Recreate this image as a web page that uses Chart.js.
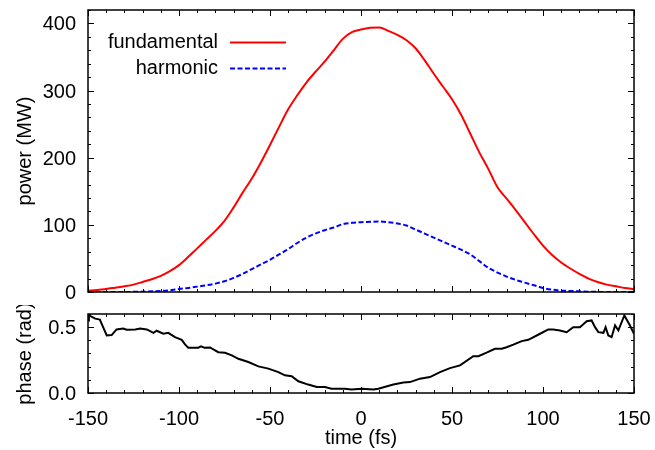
<!DOCTYPE html>
<html>
<head>
<meta charset="utf-8">
<script src="https://cdn.jsdelivr.net/npm/chart.js@4.4.1/dist/chart.umd.min.js"></script>
<style>
  html, body { margin: 0; padding: 0; background: #fff; }
  #wrap { position: relative; width: 655px; height: 450px; }
  canvas { position: absolute; left: 0; }
  #top { top: 0; }
  #bot { top: 305px; }
</style>
</head>
<body>
<div id="wrap">
  <canvas id="top" width="655" height="305"></canvas>
  <canvas id="bot" width="655" height="145"></canvas>
</div>
<script>
// ---- data ----
const timeFs = [-150,-145,-140,-135,-130,-125,-120,-115,-110,-105,-100,-95,-90,-85,-80,-75,-70,-65,-60,-55,-50,-45,-40,-35,-30,-25,-20,-15,-10,-5,0,5,10,15,20,25,30,35,40,45,50,55,60,65,70,75,80,85,90,95,100,105,110,115,120,125,130,135,140,145,150];
const fundamental = [2,3,4.5,6.5,8.5,11,15,19,24,31,40,52,65,78,91,106,126,148,169,193,219,246,272,293,312,328,343,360,377,387,391,393.5,394,389,383,375,363,345,325,306,287,264,236,208,183,156,139,122,104,86,69,55,44,35,27,20,15,11,8.5,6,4.5];
const harmonic = [0,0,0,0,0,0.3,0.5,1,1.5,2.5,4.5,6,8,10,12.5,16,21,27,34,41,48,56,64,73,81,87,92,96,101,103,104,104.5,105,104,102,99,93,87,81,75,69,63,56,46,36,29,23,18,14,10,6,3.5,2,1.5,1,0.5,0.2,0,0,0,0];
const phaseTime = [-150,-149.5,-146,-143.5,-139.7,-137,-134.3,-130.6,-128.8,-124,-121.4,-117.7,-114,-112.3,-108.6,-105.9,-102.2,-98.5,-96.7,-94.9,-89.4,-88,-86,-83,-78.4,-74.7,-71,-67.4,-61.9,-56.4,-50.9,-45.4,-41.8,-38.1,-34.4,-29,-24.3,-19.8,-16.2,-8.9,-5.2,0.3,6.8,9.5,17.8,23.3,26.9,32.4,37.9,43.4,48.9,54.4,61.7,64.5,69,73.6,77.3,80,83.7,88.3,91.9,98.4,102.9,105.6,109.3,113,116.6,120.3,124,126.7,128.6,130.4,133.2,134.4,135.9,137.7,139.6,141.4,144.7,147.8,150];
const phaseValue = [0.55,0.59,0.565,0.558,0.437,0.44,0.483,0.49,0.48,0.483,0.49,0.483,0.457,0.473,0.45,0.457,0.424,0.404,0.369,0.344,0.344,0.354,0.344,0.346,0.31,0.306,0.286,0.26,0.235,0.202,0.185,0.159,0.134,0.127,0.089,0.064,0.045,0.045,0.033,0.033,0.026,0.033,0.026,0.033,0.064,0.079,0.083,0.109,0.121,0.159,0.189,0.21,0.28,0.28,0.306,0.336,0.336,0.348,0.367,0.394,0.404,0.45,0.483,0.483,0.475,0.462,0.5,0.5,0.545,0.551,0.5,0.462,0.457,0.5,0.437,0.424,0.513,0.475,0.589,0.513,0.45];
const powerTicks = [0,100,200,300,400];
const phaseTicks = [0,0.5];
const timeTicks = [-150,-100,-50,0,50,100,150];

// ---- helpers ----
const FONT = "'Liberation Sans', Arial, Helvetica, sans-serif";
const FS = 20;

const frameTicks = {
  id: 'frameTicks',
  afterDraw(chart, args, o) {
    const {ctx, chartArea: a, scales} = chart;
    const xs = scales.x, ys = scales.y;
    ctx.save();
    ctx.strokeStyle = '#000';
    ctx.lineWidth = 1;
    const isMajor = (v, m) => Math.abs(v / m - Math.round(v / m)) < 1e-6;
    ctx.beginPath();
    const nx = Math.round((xs.max - xs.min) / o.xMinor);
    for (let i = 0; i <= nx; i++) {
      const v = xs.min + i * o.xMinor;
      const len = isMajor(v, o.xMajor) ? 6 : 3;
      const px = Math.round(xs.getPixelForValue(v)) + 0.5;
      ctx.moveTo(px, a.bottom); ctx.lineTo(px, a.bottom - len);
      ctx.moveTo(px, a.top); ctx.lineTo(px, a.top + len);
    }
    const ny = Math.round((ys.max - ys.min) / o.yMinor);
    for (let i = 0; i <= ny; i++) {
      const v = ys.min + i * o.yMinor;
      const len = isMajor(v, o.yMajor) ? 6 : 3;
      const py = Math.round(ys.getPixelForValue(v)) + 0.5;
      ctx.moveTo(a.left, py); ctx.lineTo(a.left + len, py);
      ctx.moveTo(a.right, py); ctx.lineTo(a.right - len, py);
    }
    ctx.stroke();
    ctx.lineWidth = 1.5;
    ctx.strokeRect(a.left, a.top, a.right - a.left, a.bottom - a.top);
    ctx.restore();
  }
};

const keyLegend = {
  id: 'keyLegend',
  afterDraw(chart, args, o) {
    if (!o.show) return;
    const ctx = chart.ctx;
    ctx.save();
    ctx.font = FS + 'px ' + FONT;
    ctx.fillStyle = '#000';
    ctx.textAlign = 'right';
    ctx.textBaseline = 'middle';
    chart.data.datasets.forEach((ds, i) => {
      const y = o.y + i * o.gap;
      ctx.fillText(ds.label, o.textRight, y);
      ctx.beginPath();
      ctx.strokeStyle = ds.borderColor;
      ctx.lineWidth = ds.borderWidth;
      ctx.setLineDash(ds.borderDash || []);
      ctx.moveTo(o.lineX0, y + 0.5);
      ctx.lineTo(o.lineX1, y + 0.5);
      ctx.stroke();
    });
    ctx.restore();
  }
};

const pts = (xs, ys) => xs.map((x, i) => ({x: x, y: ys[i]}));
const noPad = s => { s.paddingTop = 0; s.paddingBottom = 0; s.paddingLeft = 0; s.paddingRight = 0; };

function yAxis(min, max, ticks, title) {
  return {
    type: 'linear', min: min, max: max,
    afterBuildTicks: s => { s.ticks = ticks.map(v => ({value: v})); },
    afterFit: s => { s.width = 88; noPad(s); },
    grid: {display: false, drawTicks: false},
    border: {display: false},
    ticks: {color: '#000', padding: 12, labelOffset: 1.5, font: {family: FONT, size: FS},
            callback: v => (max < 1 ? v.toFixed(1) : String(v))},
    title: {display: true, text: title, color: '#000', font: {family: FONT, size: FS}, padding: {top: 13, bottom: 0}}
  };
}

Chart.defaults.animation = false;

new Chart(document.getElementById('top'), {
  type: 'line',
  data: {
    datasets: [
      {label: 'fundamental', data: pts(timeFs, fundamental), borderColor: '#ff0000', borderWidth: 2,
       pointRadius: 0, cubicInterpolationMode: 'monotone'},
      {label: 'harmonic', data: pts(timeFs, harmonic), borderColor: '#0000ff', borderWidth: 2,
       borderDash: [5, 2.5], pointRadius: 0, cubicInterpolationMode: 'monotone'}
    ]
  },
  options: {
    responsive: false, devicePixelRatio: 1,
    layout: {padding: {top: 10, right: 21, bottom: 13, left: 0}},
    plugins: {legend: {display: false}, tooltip: {enabled: false},
      frameTicks: {xMinor: 10, xMajor: 50, yMinor: 20, yMajor: 100},
      keyLegend: {show: true, textRight: 218, lineX0: 230, lineX1: 286, y: 42, gap: 26}},
    scales: {
      x: {type: 'linear', min: -150, max: 150, grid: {display: false, drawTicks: false}, border: {display: false},
          ticks: {display: false}, afterFit: s => { s.height = 0; noPad(s); }},
      y: yAxis(0, 420, powerTicks, 'power (MW)')
    }
  },
  plugins: [frameTicks, keyLegend]
});

new Chart(document.getElementById('bot'), {
  type: 'line',
  data: {
    datasets: [
      {label: 'phase', data: pts(phaseTime, phaseValue), borderColor: '#000', borderWidth: 2, pointRadius: 0}
    ]
  },
  options: {
    responsive: false, devicePixelRatio: 1,
    layout: {padding: {top: 9, right: 21, bottom: 0, left: 0}},
    plugins: {legend: {display: false}, tooltip: {enabled: false},
      frameTicks: {xMinor: 10, xMajor: 50, yMinor: 0.1, yMajor: 0.5},
      keyLegend: {show: false}},
    scales: {
      x: {type: 'linear', min: -150, max: 150,
          afterBuildTicks: s => { s.ticks = timeTicks.map(v => ({value: v})); },
          afterFit: s => { s.height = 57; noPad(s); },
          grid: {display: false, drawTicks: false}, border: {display: false},
          ticks: {color: '#000', padding: 14, maxRotation: 0, autoSkip: false, font: {family: FONT, size: FS}},
          title: {display: true, text: 'time (fs)', color: '#000', font: {family: FONT, size: FS}, padding: {top: 0, bottom: 0}}},
      y: yAxis(0, 0.6, phaseTicks, 'phase (rad)')
    }
  },
  plugins: [frameTicks, keyLegend]
});
</script>
</body>
</html>
